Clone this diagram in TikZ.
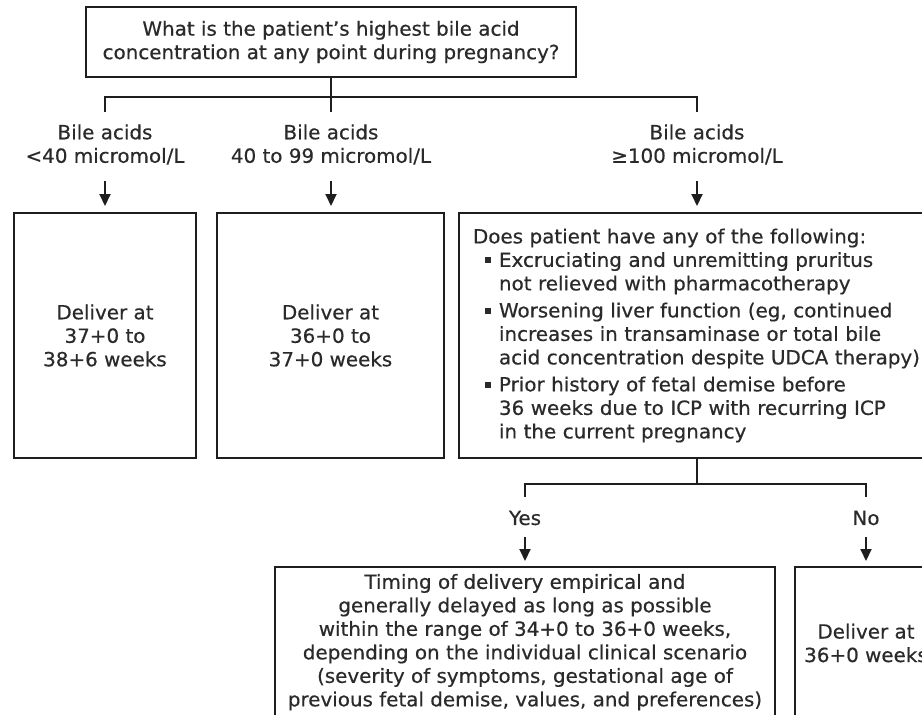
\documentclass[tikz,border=0pt]{standalone}
\usepackage{fontspec}
\setmainfont{DejaVu Sans}[FakeStretch=1.02,FakeBold=0.5]
\usetikzlibrary{arrows.meta}
\definecolor{ink}{HTML}{1E1E1E}
\definecolor{tink}{HTML}{2A2A2A}
\newcommand{\bul}{\hspace*{12pt}\makebox[14pt][l]{\raisebox{3.5pt}{\rule{6pt}{6pt}}}}
\newcommand{\ind}{\hspace*{26pt}}
\begin{document}
\begin{tikzpicture}[x=1pt,y=-1pt,
  txt/.style={text=tink, font=\fontsize{19.5pt}{23.5pt}\selectfont},
  box/.style={txt, draw=ink, line width=2pt, fill=white, inner sep=0pt, align=center},
  lbl/.style={txt, inner sep=0pt, align=center},
  conn/.style={draw=ink, line width=2pt},
  arr/.style={conn, -{Triangle[length=12pt,width=11pt]}}
]
\useasboundingbox (0,0) rectangle (922,715);

% top question
\node[box, minimum width=490pt, minimum height=70pt] (top) at (331,42)
  {What is the patient's highest bile acid\\concentration at any point during pregnancy?};

% first branching
\coordinate (j1) at (105,97);
\coordinate (j2) at (331,97);
\coordinate (j3) at (697,97);
\coordinate (d1) at (105,112);
\coordinate (d2) at (331,112);
\coordinate (d3) at (697,112);
\draw[conn] (top.south) -- (j2);
\draw[conn] (d1) -- (j1) -- (j3) -- (d3);
\draw[conn] (j2) -- (d2);

\node[lbl] (l1) at (105,144.5) {Bile acids\\<40 micromol/L};
\node[lbl] (l2) at (331,144.5) {Bile acids\\40 to 99 micromol/L};
\node[lbl] (l3) at (697,144.5) {Bile acids\\≥100 micromol/L};

% boxes of first level
\node[box, anchor=north west, minimum width=182pt, minimum height=245pt] (b1) at (13,212)
  {Deliver at\\37+0 to\\38+6 weeks};
\node[box, anchor=north west, minimum width=227pt, minimum height=245pt] (b2) at (216,212)
  {Deliver at\\36+0 to\\37+0 weeks};
\node[box, anchor=north west, minimum height=245pt, inner xsep=14pt, text width=480pt, align=left] (b3) at (458,212)
  {Does patient have any of the following:\\
   \bul Excruciating and unremitting pruritus\\
   \ind not relieved with pharmacotherapy\\[3.5pt]
   \bul Worsening liver function (eg, continued\\
   \ind increases in transaminase or total bile\\
   \ind acid concentration despite UDCA therapy)\\[3.5pt]
   \bul Prior history of fetal demise before\\
   \ind 36 weeks due to ICP with recurring ICP\\
   \ind in the current pregnancy};

\coordinate (a1) at (105,181);
\coordinate (a2) at (331,181);
\coordinate (a3) at (697,181);
\draw[arr, shorten >=6pt] (a1) -- (a1 |- b1.north);
\draw[arr, shorten >=6pt] (a2) -- (a2 |- b2.north);
\draw[arr, shorten >=6pt] (a3) -- (a3 |- b3.north);

% second branching
\coordinate (k) at (697,484);
\coordinate (ky) at (525,484);
\coordinate (kn) at (866,484);
\coordinate (ey) at (525,497);
\coordinate (en) at (866,497);
\draw[conn] (k |- b3.south) -- (k);
\draw[conn] (ey) -- (ky) -- (kn) -- (en);

\node[lbl] (ly) at (525,518) {Yes};
\node[lbl] (ln) at (866,518) {No};

\node[box, anchor=north, minimum width=500pt, inner ysep=7pt] (yes) at (525,566)
  {Timing of delivery empirical and\\
   generally delayed as long as possible\\
   within the range of 34+0 to 36+0 weeks,\\
   depending on the individual clinical scenario\\
   (severity of symptoms, gestational age of\\
   previous fetal demise, values, and preferences)};
\node[box, anchor=north, minimum width=142pt, minimum height=152pt] (no) at (866,566)
  {Deliver at\\36+0 weeks};

\coordinate (ay) at (525,537);
\coordinate (an) at (866,537);
\draw[arr, shorten >=5pt] (ay) -- (ay |- yes.north);
\draw[arr, shorten >=5pt] (an) -- (an |- no.north);
\end{tikzpicture}
\end{document}
